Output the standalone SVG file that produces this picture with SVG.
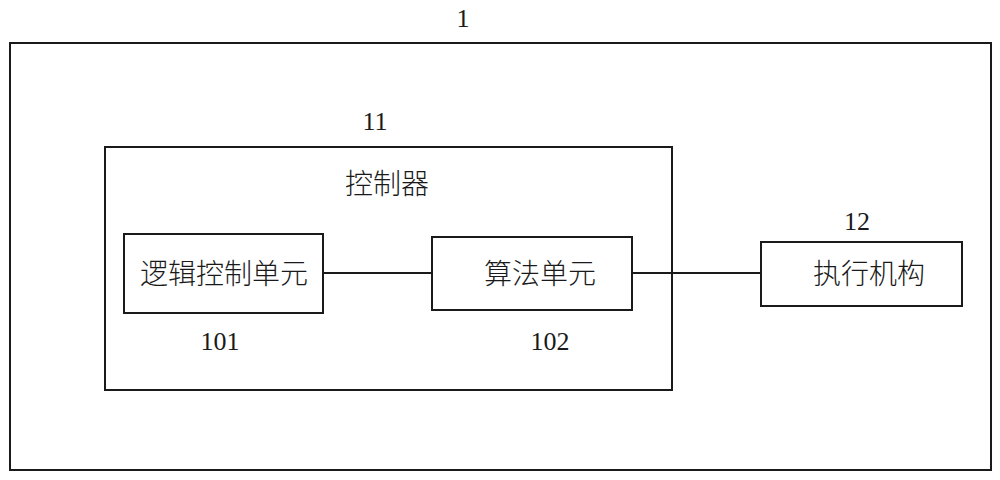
<svg xmlns="http://www.w3.org/2000/svg" width="1000" height="480" viewBox="0 0 1000 480">
<style>
.box{fill:none;stroke:#1a1a1a;stroke-width:2}
.ln{stroke:#1a1a1a;stroke-width:2;fill:none}
.num{font-family:"Liberation Serif","Times New Roman",serif;font-size:26px;fill:#1a1a1a;text-anchor:middle}
.cn{font-family:"Noto Sans CJK SC","Noto Sans",sans-serif;font-size:28px;fill:#1a1a1a;text-anchor:middle;font-weight:300}
</style>
<rect width="1000" height="480" fill="#ffffff"/>
<g id="system">
<rect class="box" x="10" y="43" width="981" height="427"/>
<text class="num" x="463" y="27">1</text>
</g>
<g id="controller">
<rect class="box" x="105" y="147" width="567" height="243"/>
<text class="num" x="375" y="130">11</text>
<text class="cn" x="387" y="194">控制器</text>
</g>
<g id="logic-unit">
<rect class="box" x="124" y="234" width="199" height="79"/>
<text class="cn" x="224" y="284">逻辑控制单元</text>
<text class="num" x="220" y="350">101</text>
</g>
<g id="algorithm-unit">
<rect class="box" x="432" y="237" width="200" height="73"/>
<text class="cn" x="540" y="284">算法单元</text>
<text class="num" x="550" y="350">102</text>
</g>
<g id="actuator">
<rect class="box" x="761" y="242" width="201" height="64"/>
<text class="num" x="857" y="230">12</text>
<text class="cn" x="869" y="284">执行机构</text>
</g>
<g id="connectors">
<line class="ln" x1="323" y1="273" x2="432" y2="273"/>
<line class="ln" x1="632" y1="273" x2="761" y2="273"/>
</g>
</svg>
